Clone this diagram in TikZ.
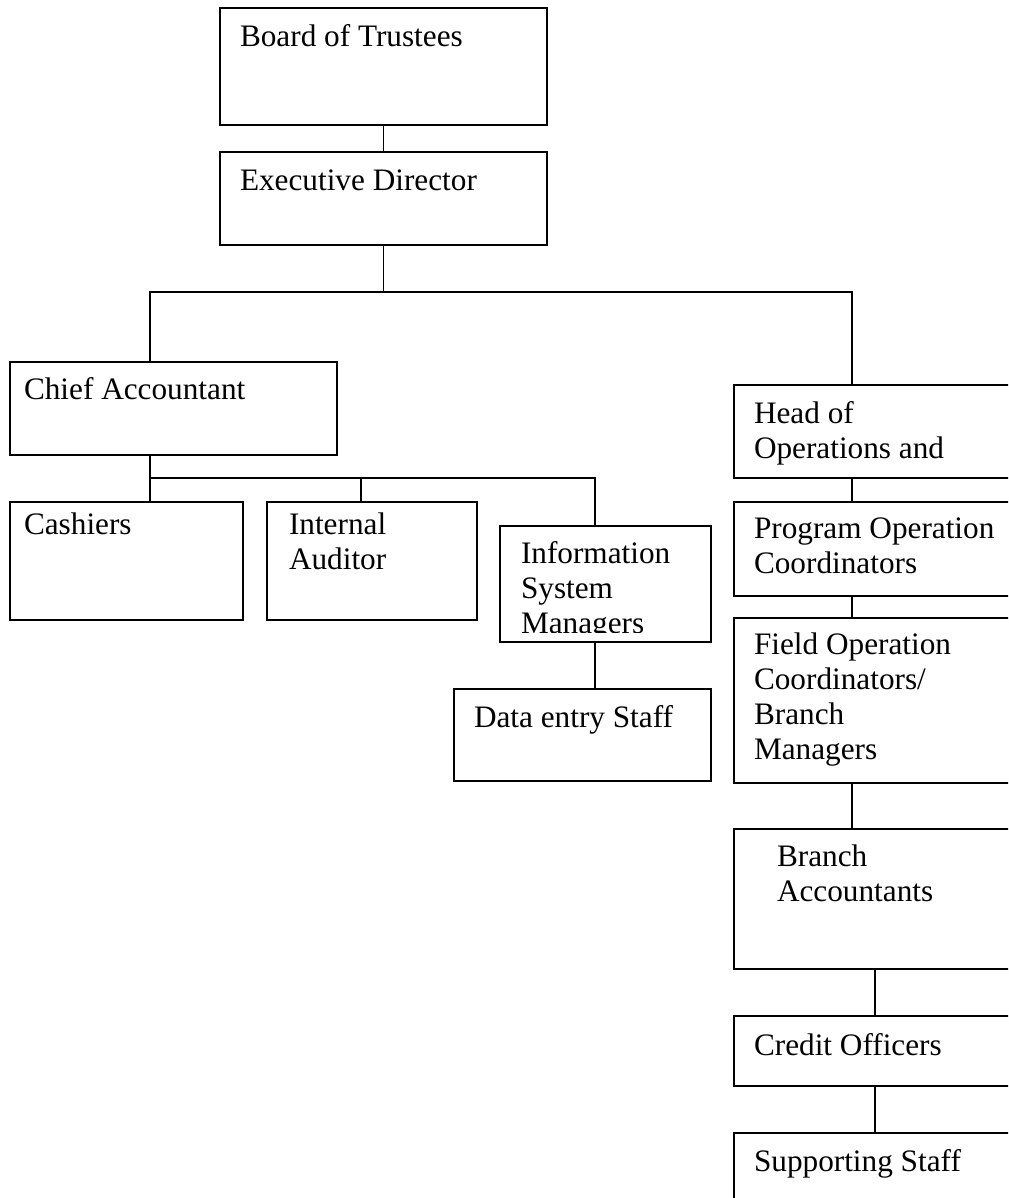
\documentclass[tikz,border=0pt]{standalone}
\usepackage{fontspec}
\setmainfont{Liberation Serif}
\begin{document}
\begin{tikzpicture}[x=0.4pt, y=-0.4pt, line width=0.75pt,
    box/.style 2 args={rectangle, draw, minimum width=#1*0.4pt, minimum height=#2*0.4pt, inner sep=0pt},
    txt/.style={anchor=north west, inner sep=0pt, align=left, font=\fontsize{12.5}{14}\selectfont}]

        \useasboundingbox (0,0) rectangle (1008,1198);
        \clip (0,0) rectangle (1008,1198);

        \node[box={327}{117}] (bot) at (383.5,66.5) {};
        \node[txt] (bot-t) at ([shift={(20,17)}]bot.north west) {Board of Trustees};

        \node[box={327}{93}] (ed) at (383.5,198.5) {};
        \node[txt] (ed-t) at ([shift={(20,18)}]ed.north west) {Executive Director};

        \node[box={327}{93}] (ca) at (173.5,408.5) {};
        \node[txt] (ca-t) at ([shift={(14,15)}]ca.north west) {Chief Accountant};

        \node[box={233}{118}] (cash) at (126.5,561) {};
        \node[txt] (cash-t) at ([shift={(14,11)}]cash.north west) {Cashiers};

        \node[box={210}{118}] (ia) at (372,561) {};
        \node[txt] (ia-t) at ([shift={(22,11)}]ia.north west) {Internal\\Auditor};

        \node[box={211}{116}] (ism) at (605.5,584) {};
        \begin{scope}
            \clip (500,526) rectangle (711,632);
            \node[txt] (ism-t) at ([shift={(21,15)}]ism.north west) {Information\\System\\Managers};
        \end{scope}

        \node[box={257}{92}] (des) at (582.5,735) {};
        \node[txt] (des-t) at ([shift={(20,16)}]des.north west) {Data entry Staff};

        \node[box={300}{93}] (hoo) at (884,431.5) {};
        \node[txt] (hoo-t) at ([shift={(20,16)}]hoo.north west) {Head of\\Operations and};

        \node[box={300}{94}] (poc) at (884,549) {};
        \node[txt] (poc-t) at ([shift={(20,16)}]poc.north west) {Program Operation\\Coordinators};

        \node[box={300}{165}] (foc) at (884,700.5) {};
        \node[txt] (foc-t) at ([shift={(20,15)}]foc.north west) {Field Operation\\Coordinators/\\Branch\\Managers};

        \node[box={300}{140}] (ba) at (884,899) {};
        \node[txt] (ba-t) at ([shift={(43,16)}]ba.north west) {Branch\\Accountants};

        \node[box={300}{70}] (co) at (884,1051) {};
        \node[txt] (co-t) at ([shift={(20,17)}]co.north west) {Credit Officers};

        \node[box={300}{97}] (ss) at (884,1181.5) {};
        \node[txt] (ss-t) at ([shift={(20,16)}]ss.north west) {Supporting Staff};

        \coordinate (jl) at (150,292);
        \coordinate (jr) at (852,292);
        \coordinate (kl) at (150,478);
        \coordinate (km) at (361,478);
        \coordinate (kr) at (595,478);
        \coordinate (rb) at (875,0);

        \draw (bot.south) -- (ed.north);
        \draw (ed.south) -- (ed.south |- jl);
        \draw (ca.north -| jl) -- (jl) -- (jr) -- (hoo.north -| jr);

        \draw (ca.south -| kl) -- (cash.north -| kl);
        \draw (kl) -- (kr) -- (ism.north -| kr);
        \draw (km) -- (ia.north -| km);
        \draw (ism.south -| kr) -- (des.north -| kr);

        \draw (hoo.south -| jr) -- (poc.north -| jr);
        \draw (poc.south -| jr) -- (foc.north -| jr);
        \draw (foc.south -| jr) -- (ba.north -| jr);
        \draw (ba.south -| rb) -- (co.north -| rb);
        \draw (co.south -| rb) -- (ss.north -| rb);
    \end{tikzpicture}
\end{document}
